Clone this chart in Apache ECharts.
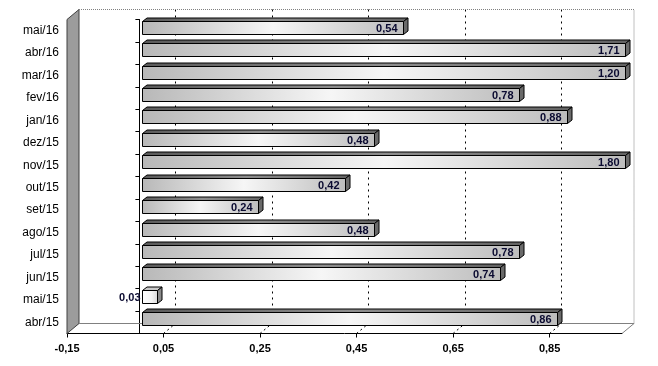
<!DOCTYPE html>
<html><head><meta charset="utf-8">
<script src="https://cdn.jsdelivr.net/npm/echarts@6/dist/echarts.min.js"></script>
<style>html,body{margin:0;padding:0;background:#fff}#c{width:658px;height:366px}</style>
</head><body><div id="c"></div>
<script>
// ---- data ----
const categories = ['abr/15','mai/15','jun/15','jul/15','ago/15','set/15','out/15','nov/15','dez/15','jan/16','fev/16','mar/16','abr/16','mai/16'];
const values = [0.86, 0.03, 0.74, 0.78, 0.48, 0.24, 0.42, 1.80, 0.48, 0.88, 0.78, 1.20, 1.71, 0.54];
const xTickValues = [-0.15, 0.05, 0.25, 0.45, 0.65, 0.85];
const X_MIN = -0.15, X_MAX = 1.0, X_STEP = 0.2;

// ---- layout (front plane + 3D depth) ----
const F = {left: 67, top: 19.5, width: 555, height: 314};
const D = {x: 12, y: -10};
const FONT = '"Liberation Sans", Arial, sans-serif';
const fmt = v => v.toFixed(2).replace('.', ',');

function renderItem(params, api) {
  const cat = api.value(1), v = api.value(0);
  const p0 = api.coord([0, cat]);
  const p1 = api.coord([Math.min(v, X_MAX), cat]);
  const xl = Math.round(p0[0] + 3) + 0.5;
  const xr = Math.round(p1[0] + 3) + 0.5;
  const yt = Math.round(p0[1] - 3.5 - 6.5) + 0.5;
  const yb = yt + 13;
  const dx = 4.5, dy = -3.5;
  const small = (xr - xl) < 30;
  const faceFill = small
    ? {type:'linear',x:0,y:0,x2:1,y2:0,colorStops:[{offset:0,color:'#ffffff'},{offset:0.6,color:'#f4f4f4'},{offset:1,color:'#d8d8d8'}]}
    : {type:'linear',x:0,y:0,x2:1,y2:0,colorStops:[{offset:0,color:'#b8b8b8'},{offset:0.5,color:'#f6f6f6'},{offset:1,color:'#bdbdbd'}]};
  const topFill = small ? '#c8c8c8'
    : {type:'linear',x:0,y:0,x2:1,y2:0,colorStops:[{offset:0,color:'#5a5a5a'},{offset:0.5,color:'#8e8e8e'},{offset:1,color:'#626262'}]};
  const sideFill = small ? '#8a8a8a' : '#6a6a6a';
  const label = small
    ? {text: fmt(v), x: xl - 2, y: (yt + yb) / 2 + 1, align: 'right', verticalAlign: 'middle'}
    : {text: fmt(v), x: xr - 6, y: (yt + yb) / 2 + 1, align: 'right', verticalAlign: 'middle'};
  return {
    type: 'group',
    children: [
      {type:'polygon', shape:{points:[[xl,yt],[xl+dx,yt+dy],[xr+dx,yt+dy],[xr,yt]]}, style:{fill:topFill, stroke:'#000', lineWidth:1}},
      {type:'polygon', shape:{points:[[xr,yt],[xr+dx,yt+dy],[xr+dx,yb+dy],[xr,yb]]}, style:{fill:sideFill, stroke:'#000', lineWidth:1}},
      {type:'rect', shape:{x:xl, y:yt, width:xr-xl, height:yb-yt}, style:{fill:faceFill, stroke:'#000', lineWidth:1}},
      {type:'text', style:Object.assign({font:'bold 11px ' + FONT, fill:'#0a0a30'}, label)}
    ]
  };
}

const xPix = t => F.left + (t - X_MIN) / (X_MAX - X_MIN) * F.width;
const bx = F.left + D.x, by = F.top + D.y, br = F.left + F.width + D.x, bb = F.top + F.height + D.y;
const graphics = [
  {type:'polygon', z:1, shape:{points:[[F.left, F.top],[bx, by],[bx, bb],[F.left, F.top + F.height]]}, style:{fill:'#9c9c9c', stroke:'#404040', lineWidth:1}},
  {type:'polyline', z:1, shape:{points:[[bx, by],[br, by],[br, bb]]}, style:{stroke:'#808080', lineWidth:1, lineDash:[1,1], fill:null}},
  {type:'polyline', z:1, shape:{points:[[bx, bb],[br, bb],[F.left + F.width, F.top + F.height]]}, style:{stroke:'#808080', lineWidth:1, fill:null}}
];
xTickValues.slice(1).forEach(t => {
  graphics.push({type:'line', z:1, shape:{x1:xPix(t), y1:F.top + F.height, x2:xPix(t) + D.x, y2:bb}, style:{stroke:'#000', lineWidth:1, lineDash:[2,3]}});
});

const chart = echarts.init(document.getElementById('c'), null, {renderer:'canvas'});
chart.setOption({
  animation: false,
  backgroundColor: '#fff',
  grid: [
    {left: F.left, top: F.top, width: F.width, height: F.height},
    {left: bx, top: by, width: F.width, height: F.height}
  ],
  xAxis: [
    {type:'value', gridIndex:0, min:X_MIN, max:X_MAX, interval:X_STEP,
     axisLine:{show:true, onZero:false, lineStyle:{color:'#000', width:1}},
     axisTick:{show:true, length:4, customValues:xTickValues, lineStyle:{color:'#000'}},
     axisLabel:{customValues:xTickValues, formatter: v => fmt(v), color:'#000', fontFamily:FONT, fontWeight:'bold', fontSize:11, margin:10},
     splitLine:{show:false}},
    {type:'value', gridIndex:1, min:X_MIN, max:X_MAX, interval:X_STEP,
     axisLine:{show:false}, axisTick:{show:false, customValues:xTickValues.slice(1)},
     axisLabel:{show:false, customValues:xTickValues.slice(1)},
     splitLine:{show:true, lineStyle:{color:'#000', width:1, type:[2,4]}}}
  ],
  yAxis: [
    {type:'category', gridIndex:0, data:categories, position:'left',
     axisLine:{show:false, onZero:false}, axisTick:{show:false},
     axisLabel:{color:'#000', fontFamily:FONT, fontSize:12, margin:8}},
    {type:'category', gridIndex:0, data:categories, position:'left',
     axisLine:{show:true, onZero:true, lineStyle:{color:'#000', width:1}},
     axisTick:{show:true, length:4, lineStyle:{color:'#000'}}, axisLabel:{show:false}},
    {type:'category', gridIndex:1, data:categories, show:false}
  ],
  series: [{type:'custom', xAxisIndex:0, yAxisIndex:0, z:10, renderItem: renderItem,
            data: values.map((v, i) => [v, i])}],
  graphic: graphics
});
</script>
</body></html>
